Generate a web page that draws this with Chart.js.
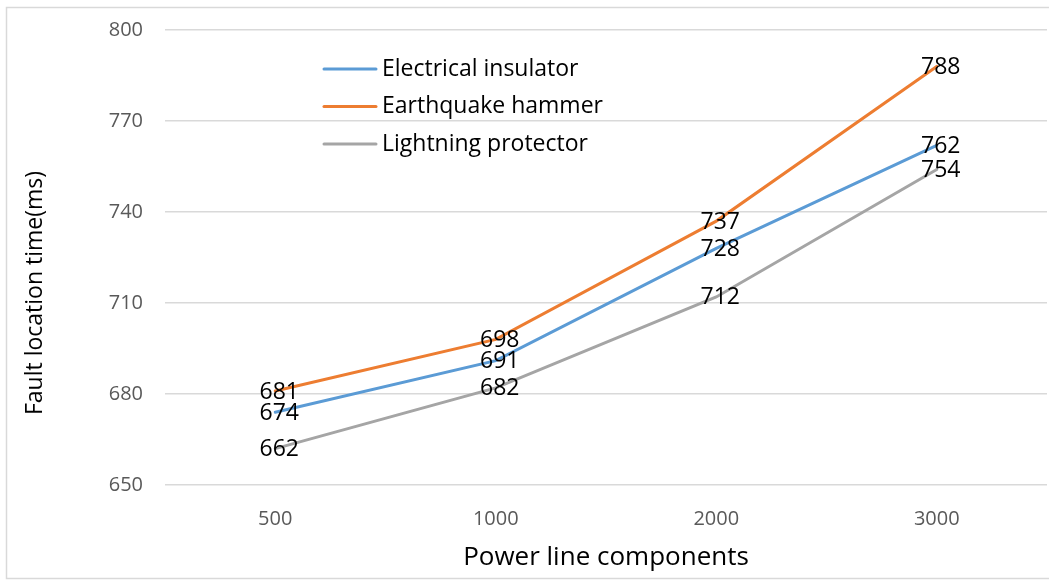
<!DOCTYPE html>
<html>
<head>
<meta charset="utf-8">
<script src="https://cdn.jsdelivr.net/npm/chart.js@4.4.1/dist/chart.umd.min.js"></script>
<style>
  html, body { margin: 0; padding: 0; background: #fff; overflow: hidden; }
  #wrap { position: absolute; left: 0; top: 0; width: 1049px; height: 581px; }
</style>
</head>
<body>
<div id="wrap"><canvas id="faultChart"></canvas></div>
<script>
const components = ['500', '1000', '2000', '3000'];
const insulator = [674, 691, 728, 762];
const hammer = [681, 698, 737, 788];
const protector = [662, 682, 712, 754];
const yTicks = [650, 680, 710, 740, 770, 800];
const yTitle = 'Fault location time(ms)';

const FONT = '"Open Sans", Lato, sans-serif';

// grey frame round the chart (right side is cut off like the original)
// plus the y title, centred on the whole frame like excel does
const framePlugin = {
  id: 'frame',
  beforeDraw(chart) {
    const c = chart.ctx;
    c.save();
    c.strokeStyle = '#d9d9d9';
    c.lineWidth = 1.5;
    c.strokeRect(6.5, 7.5, 1200, 571);
    c.translate(35, 293);
    c.rotate(-Math.PI / 2);
    c.font = '23px ' + FONT;
    c.fillStyle = '#000';
    c.textAlign = 'center';
    c.textBaseline = 'middle';
    c.fillText(yTitle, 0, 0);
    c.restore();
  }
};

// value text centred on every point
const valuePlugin = {
  id: 'values',
  afterDatasetsDraw(chart) {
    const c = chart.ctx;
    c.save();
    c.font = '23px ' + FONT;
    c.fillStyle = '#000';
    c.textAlign = 'center';
    c.textBaseline = 'middle';
    chart.data.datasets.forEach((ds, i) => {
      chart.getDatasetMeta(i).data.forEach((pt, j) => {
        c.fillText(ds.data[j], pt.x + 4, pt.y + 1);
      });
    });
    c.restore();
  }
};

// legend drawn inside the plot, top left
const legendPlugin = {
  id: 'insideLegend',
  afterDraw(chart) {
    const c = chart.ctx;
    c.save();
    c.font = '23px ' + FONT;
    c.textBaseline = 'middle';
    c.textAlign = 'left';
    chart.data.datasets.forEach((ds, i) => {
      const y = 69 + i * 37.5;
      c.strokeStyle = ds.borderColor;
      c.lineWidth = 3;
      c.lineCap = 'round';
      c.beginPath();
      c.moveTo(324, y);
      c.lineTo(376, y);
      c.stroke();
      c.fillStyle = '#000';
      c.fillText(ds.label, 382, y);
    });
    c.restore();
  }
};

new Chart(document.getElementById('faultChart'), {
  type: 'line',
  data: {
    labels: components,
    datasets: [
      { label: 'Electrical insulator', data: insulator, borderColor: '#5b9bd5' },
      { label: 'Earthquake hammer', data: hammer, borderColor: '#ed7d31' },
      { label: 'Lightning protector', data: protector, borderColor: '#a5a5a5' }
    ].map(d => Object.assign(d, {
      borderWidth: 3,
      tension: 0,
      pointRadius: 0,
      fill: false,
      borderCapStyle: 'round'
    }))
  },
  options: {
    responsive: true,
    maintainAspectRatio: false,
    animation: false,
    layout: { padding: { top: 30, right: 2, left: 8, bottom: 8 } },
    plugins: {
      legend: { display: false },
      tooltip: { enabled: false }
    },
    scales: {
      x: {
        offset: true,
        grid: { display: false, drawTicks: false },
        border: { display: false },
        ticks: { color: '#595959', font: { family: FONT, size: 20 }, padding: 22 },
        title: {
          display: true,
          text: 'Power line components',
          color: '#000',
          font: { family: FONT, size: 26 },
          padding: { top: 6, bottom: 0 }
        },
        afterFit(scale) { scale.height = 88; }
      },
      y: {
        min: 650,
        max: 800,
        afterBuildTicks(scale) { scale.ticks = yTicks.map(v => ({ value: v })); },
        grid: { color: '#d9d9d9', lineWidth: 1.5, drawTicks: false },
        border: { display: false },
        ticks: { color: '#595959', font: { family: FONT, size: 20 }, padding: 22 },
        afterFit(scale) {
          scale.width = 157;
          scale.paddingTop = 0;
          scale.paddingBottom = 0;
        }
      }
    }
  },
  plugins: [framePlugin, valuePlugin, legendPlugin]
});
</script>
</body>
</html>
